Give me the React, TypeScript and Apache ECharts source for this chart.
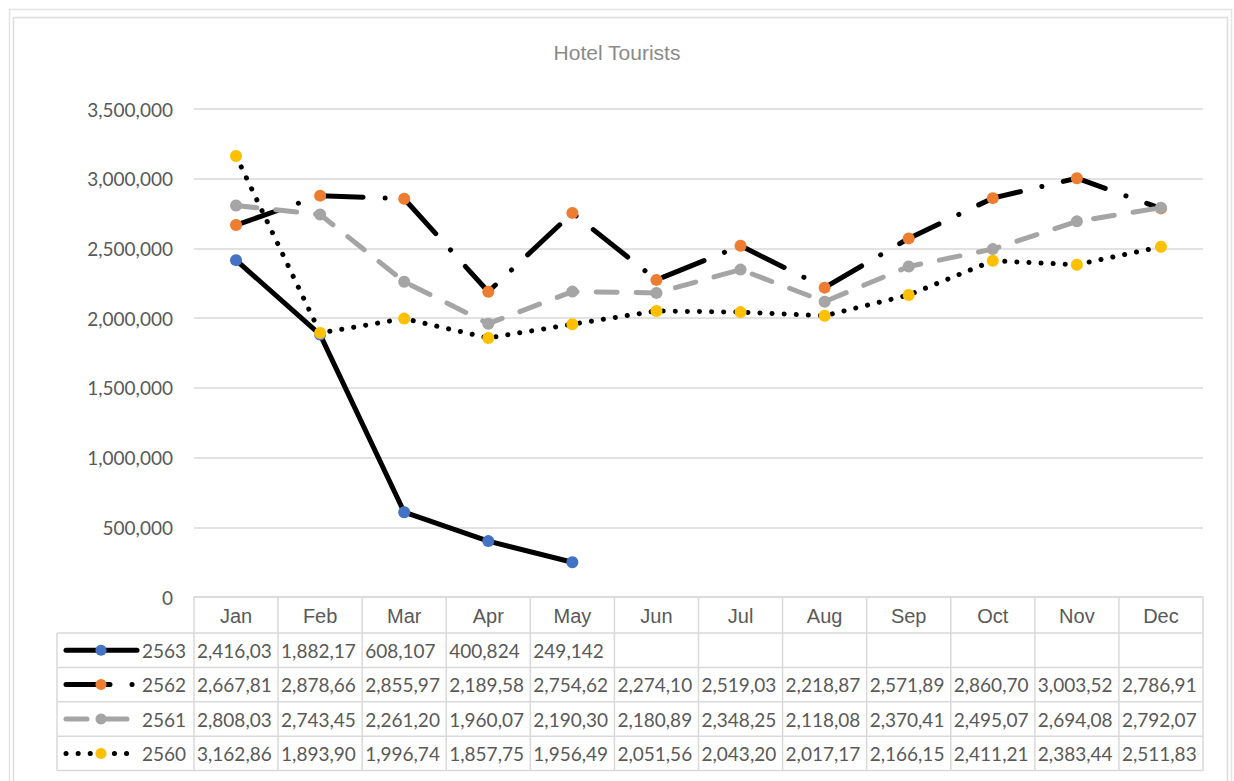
import React, { useEffect, useRef } from "react";
import * as echarts from "echarts";

const months = ["Jan", "Feb", "Mar", "Apr", "May", "Jun", "Jul", "Aug", "Sep", "Oct", "Nov", "Dec"];
const seriesNames = ["2563", "2562", "2561", "2560"];
const v2563 = [2416030, 1882170, 608107, 400824, 249142];
const v2562 = [2667810, 2878660, 2855970, 2189580, 2754620, 2274100, 2519030, 2218870, 2571890, 2860700, 3003520, 2786910];
const v2561 = [2808030, 2743450, 2261200, 1960070, 2190300, 2180890, 2348250, 2118080, 2370410, 2495070, 2694080, 2792070];
const v2560 = [3162860, 1893900, 1996740, 1857750, 1956490, 2051560, 2043200, 2017170, 2166150, 2411210, 2383440, 2511830];
const yTicks = { min: 0, max: 3500000, interval: 500000 };

const allValues = [v2563, v2562, v2561, v2560];

const styles = [
  { line: "#000000", marker: "#4472C4", dash: "solid" as any },
  { line: "#000000", marker: "#ED7D31", dash: [44, 22, 0.1, 22] },
  { line: "#A5A5A5", marker: "#A5A5A5", dash: [21, 19] },
  { line: "#000000", marker: "#FFC000", dash: [0.1, 12] },
];

const W = 1234;
const H = 781;
const GL = 194;
const GR = 1203;
const GT = 109;
const GB = 597;
const COLW = (GR - GL) / 12;
const TL = 57;
const HB = 633;
const ROWH = 34.4;
const GRIDC = "#d9d9d9";
const TXT = "#595959";
const LW = 5;

function fmtCell(v: number | undefined) {
  if (v === undefined) return "";
  return v.toLocaleString("en-US").slice(0, 8);
}

export default function App() {
  const ref = useRef<HTMLDivElement>(null);
  useEffect(() => {
    if (!ref.current) return;
    const chart = echarts.init(ref.current, null, { renderer: "svg", width: W, height: H });
    const g: any[] = [];
    g.push({ type: "rect", silent: true, shape: { x: 9.5, y: 9.5, width: 1222, height: 800 }, style: { fill: "none", stroke: "#e4e4e4", lineWidth: 1.5 } });
    g.push({ type: "rect", silent: true, shape: { x: 13.5, y: 17.5, width: 1214, height: 800 }, style: { fill: "none", stroke: "#dcdcdc", lineWidth: 1.5 } });
    const bottom = HB + ROWH * 4;
    for (let c = 0; c <= 12; c++) {
      const x = GL + c * COLW;
      g.push({ type: "line", silent: true, shape: { x1: x, y1: GB, x2: x, y2: bottom }, style: { stroke: GRIDC, lineWidth: 1.5 } });
    }
    g.push({ type: "line", silent: true, shape: { x1: TL, y1: HB, x2: TL, y2: bottom }, style: { stroke: GRIDC, lineWidth: 1.5 } });
    for (let r = 0; r <= 4; r++) {
      const y = HB + r * ROWH;
      g.push({ type: "line", silent: true, shape: { x1: TL, y1: y, x2: GR, y2: y }, style: { stroke: GRIDC, lineWidth: 1.5 } });
    }
    months.forEach((m, c) => {
      g.push({
        type: "text", silent: true, x: GL + c * COLW + COLW / 2, y: (GB + HB) / 2 + 1,
        style: { text: m, fill: TXT, fontSize: 20, fontFamily: "Liberation Sans", align: "center", verticalAlign: "middle", textAlign: "center", textVerticalAlign: "middle" },
      });
    });
    seriesNames.forEach((name, r) => {
      const cy = HB + r * ROWH + ROWH / 2;
      const st = styles[r];
      g.push({
        type: "line", silent: true, shape: { x1: 66, y1: cy, x2: 137, y2: cy },
        style: { stroke: st.line, lineWidth: LW, lineCap: "round", lineDash: st.dash === "solid" ? null : st.dash },
      });
      g.push({ type: "circle", silent: true, shape: { cx: 101, cy, r: 5.5 }, style: { fill: st.marker } });
      g.push({
        type: "text", silent: true, x: 186, y: cy,
        style: { text: name, fill: TXT, fontSize: 19, fontFamily: "Lato", align: "right", verticalAlign: "middle", textAlign: "right", textVerticalAlign: "middle" },
      });
      const vals = allValues[r];
      months.forEach((_, c) => {
        const t = fmtCell(vals[c]);
        if (!t) return;
        g.push({
          type: "text", silent: true, x: GL + c * COLW + 3, y: cy,
          style: { text: t, fill: TXT, fontSize: 19, fontFamily: "Lato", align: "left", verticalAlign: "middle", textAlign: "left", textVerticalAlign: "middle" },
        });
      });
    });

    chart.setOption({
      animation: false,
      backgroundColor: "#ffffff",
      title: {
        text: "Hotel Tourists",
        left: "center",
        top: 42,
        padding: 0,
        textStyle: { fontFamily: "Liberation Sans", fontSize: 21, fontWeight: "normal", color: "#8a8a8a" },
      },
      grid: { left: GL, right: W - GR, top: GT, bottom: H - GB, containLabel: false },
      xAxis: {
        type: "category",
        data: months,
        boundaryGap: true,
        axisLine: { show: true, lineStyle: { color: GRIDC, width: 1.5 } },
        axisTick: { show: false },
        axisLabel: { show: false },
        splitLine: { show: false },
      },
      yAxis: {
        type: "value",
        min: yTicks.min,
        max: yTicks.max,
        interval: yTicks.interval,
        axisLine: { show: false },
        axisTick: { show: false },
        axisLabel: {
          margin: 21,
          color: TXT,
          fontFamily: "Lato",
          fontSize: 19,
          formatter: (v: number) => v.toLocaleString("en-US"),
        },
        splitLine: { show: true, lineStyle: { color: GRIDC, width: 1.5 } },
      },
      series: seriesNames.map((name, i) => ({
        name,
        type: "line",
        data: allValues[i],
        symbol: "circle",
        symbolSize: 12,
        showSymbol: true,
        itemStyle: { color: styles[i].marker },
        lineStyle: { color: styles[i].line, width: LW, type: styles[i].dash, cap: "round" },
        z: 2 + i,
      })),
      graphic: { elements: g },
    });
    return () => chart.dispose();
  }, []);
  return <div ref={ref} style={{ position: "absolute", left: 0, top: 0, width: W, height: H, background: "#fff" }} />;
}
